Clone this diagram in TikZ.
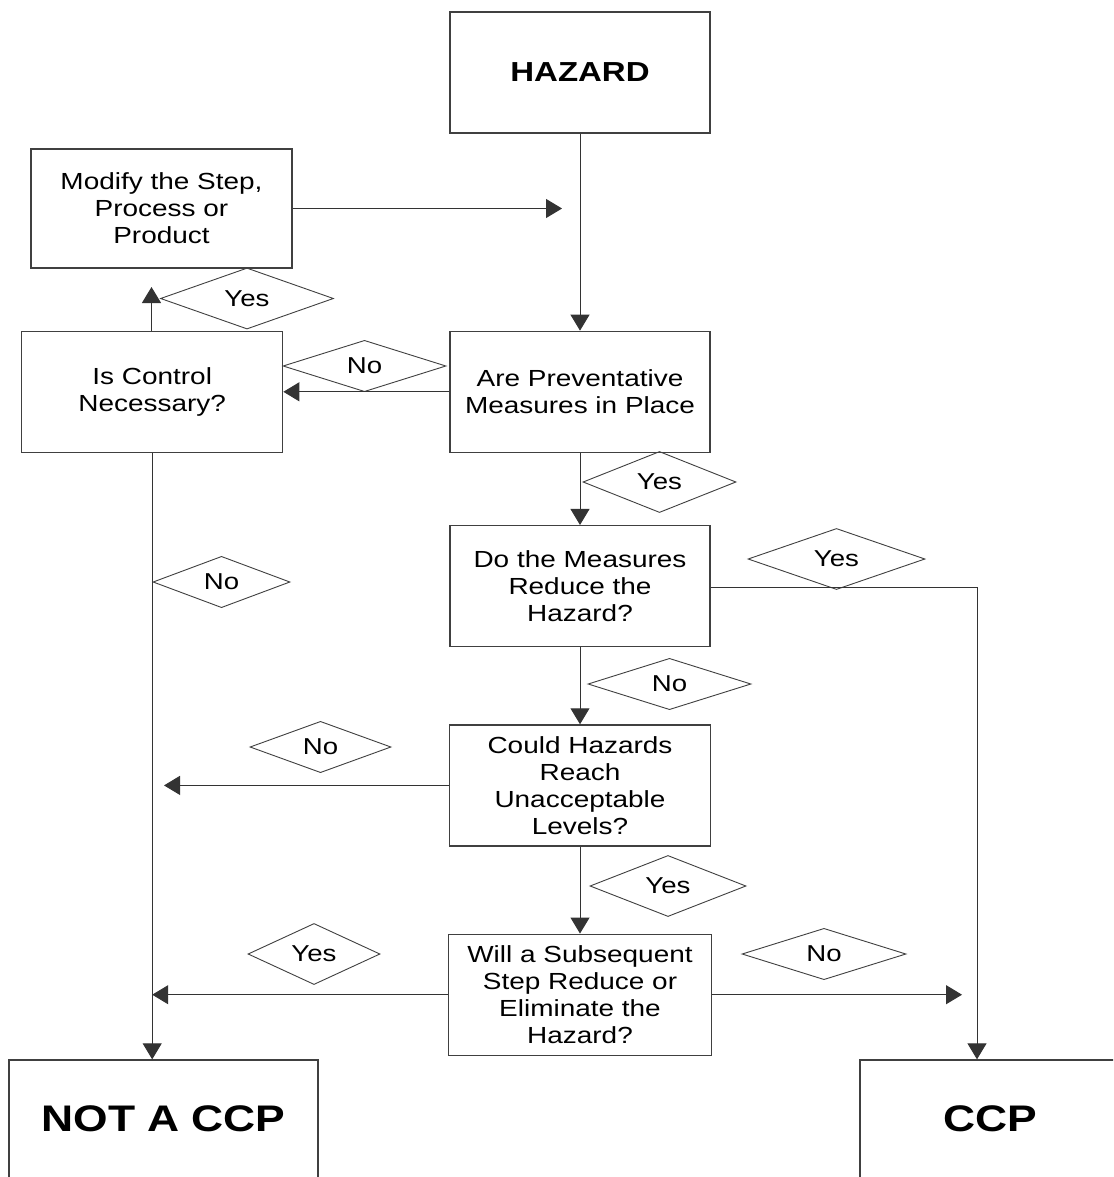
\documentclass[tikz,border=0pt]{standalone}
\usepackage{fontspec}
\setmainfont{Liberation Sans}[FakeStretch=1.2]
\usetikzlibrary{arrows.meta,positioning,shapes.geometric}

\begin{document}
\begin{tikzpicture}[
  x=1pt, y=-1pt,
  >={Triangle[length=16pt,width=19pt]},
  line width=1pt,
  box/.style={draw=black!75, line width=1.3pt, align=center, inner sep=0pt,
    font=\fontsize{23.3}{27}\selectfont, minimum width=261pt, minimum height=121pt},
  endbox/.style={box, font=\fontsize{37}{42}\bfseries, minimum height=118pt},
  ans/.style={diamond, draw=black!75, line width=0.9pt, inner sep=0pt,
    font=\fontsize{23}{27}\selectfont},
  flow/.style={->, draw=black!80}
]

\path[use as bounding box, fill=white] (0,0) rectangle (1113,1177);
\clip (0,0) rectangle (1113,1177);

% Main column
\node[box, font=\fontsize{27.5}{32}\bfseries, minimum width=260pt] (hazard) at (580,72.5) {HAZARD};
\node[box, below=197pt of hazard, minimum width=260pt] (prevent) {Are Preventative\\Measures in Place};
\node[box, below=72pt of prevent, minimum width=260pt] (reduce) {Do the Measures\\Reduce the\\Hazard?};
\node[box, below=77pt of reduce] (could) {Could Hazards\\Reach\\Unacceptable\\Levels?};
\node[box, below=87pt of could, minimum width=263pt] (subseq) {Will a Subsequent\\Step Reduce or\\Eliminate the\\Hazard?};

% Left column
\node[box, left=166pt of prevent] (control) {Is Control\\Necessary?};
\node[box, minimum height=119pt] (modify) at (161.5,208.5) {Modify the Step,\\Process or\\Product};

% Outcomes
\node[endbox, minimum width=309pt] (notccp) at (163.5,1119) {NOT A CCP};
\node[endbox, minimum width=260pt] (ccp) at (990,1119) {CCP};

% Free ends
\coordinate (merge) at (562,208.5);
\coordinate (upend) at (151.5,287);
\coordinate (turn) at (977,587);
\coordinate (leftend) at (164,785.5);
\coordinate (rightend) at (962,993.5);

% Answer labels
\node[ans, minimum width=173pt, minimum height=51pt] (yesmod) at (247,298.5) {Yes};
\node[ans, minimum width=163pt, minimum height=46pt] (noprev) at (364.5,366) {No};
\node[ans, minimum width=153pt, minimum height=40pt] (yesprev) at (659.5,482) {Yes};
\node[ans, minimum width=177pt, minimum height=40pt] (yesred) at (836.5,559) {Yes};
\node[ans, minimum width=137pt, minimum height=40pt] (noctrl) at (221.5,582) {No};
\node[ans, minimum width=163pt, minimum height=40pt] (nored) at (669.5,684) {No};
\node[ans, minimum width=141pt, minimum height=40pt] (nocould) at (320.5,747) {No};
\node[ans, minimum width=156pt, minimum height=44pt] (yescould) at (668,886) {Yes};
\node[ans, minimum width=132pt, minimum height=42pt] (yessub) at (314,954) {Yes};
\node[ans, minimum width=164pt, minimum height=42pt] (nosub) at (824,954) {No};

% Connections
\draw[flow] (hazard) -- (hazard.south |- prevent.north);
\draw[flow] (modify.east) -- (merge);
\draw[flow] (upend |- control.north) -- (upend);
\draw[flow] (prevent) -- (control);
\draw[flow] (prevent.south) -- (prevent.south |- reduce.north);
\draw[flow] (reduce.east |- turn) -- (turn) -- (turn |- ccp.north);
\draw[flow] (reduce.south) -- (reduce.south |- could.north);
\draw[flow] (could.west) -- (could.west -| leftend);
\draw[flow] (could.south) -- (could.south |- subseq.north);
\draw[flow] (subseq.west) -- (subseq.west -| control.south);
\draw[flow] (subseq.east) -- (subseq.east -| rightend);
\draw[flow] (control.south) -- (control.south |- notccp.north);

\end{tikzpicture}
\end{document}
